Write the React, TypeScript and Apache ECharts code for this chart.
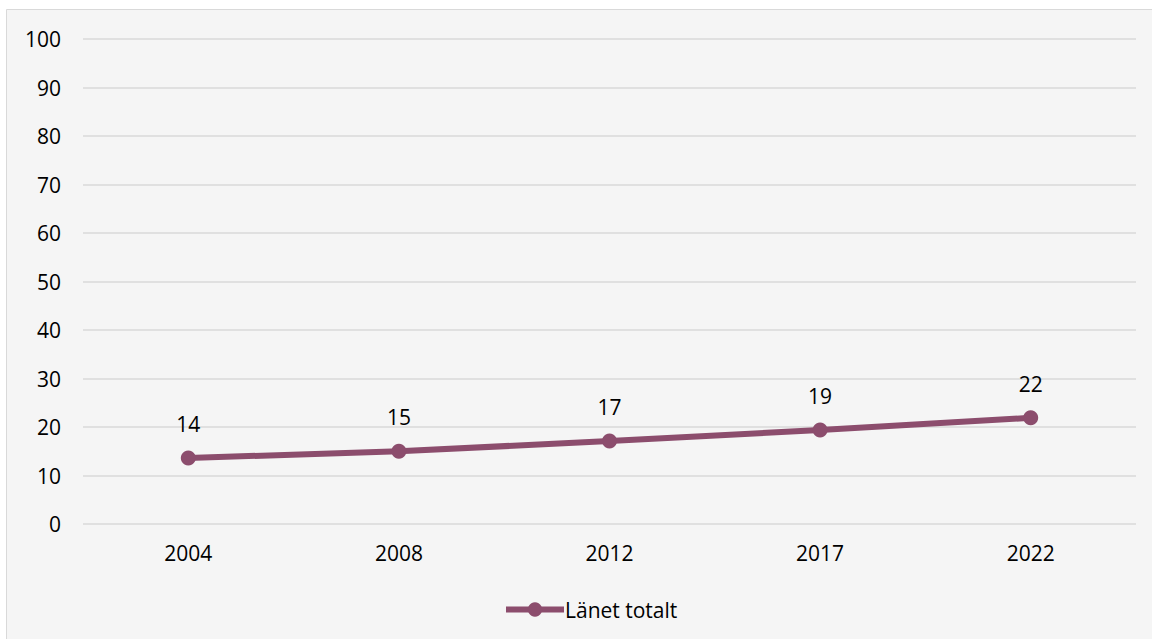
import React, { useEffect, useRef } from "react";
import * as echarts from "echarts";

const categories = ["2004", "2008", "2012", "2017", "2022"];
const values = [13.6, 15.0, 17.1, 19.4, 21.9];
const seriesName = "Länet totalt";
const yTicks = { min: 0, max: 100, interval: 10 };

const FONT = "'Open Sans', 'Noto Sans', sans-serif";
const FS = 21;
const LINE_COLOR = "#8c4d6d";

export default function App() {
  const ref = useRef<HTMLDivElement>(null);
  useEffect(() => {
    document.body.style.margin = "0";
    const chart = echarts.init(ref.current!, null, { renderer: "svg" });
    chart.setOption({
      animation: false,
      backgroundColor: "#ffffff",
      textStyle: { fontFamily: FONT },
      graphic: [
        {
          type: "rect",
          z: -10,
          silent: true,
          shape: { x: 6.5, y: 9.5, width: 1200, height: 700 },
          style: { fill: "#f5f5f5", stroke: "#d9d9d9", lineWidth: 1 },
        },
      ],
      grid: { left: 83, right: 16, top: 39, bottom: 115, containLabel: false },
      xAxis: {
        type: "category",
        data: categories,
        boundaryGap: true,
        axisLine: { show: false },
        axisTick: { show: false },
        axisLabel: { color: "#000", fontSize: FS, fontFamily: FONT, margin: 18 },
      },
      yAxis: {
        type: "value",
        min: yTicks.min,
        max: yTicks.max,
        interval: yTicks.interval,
        axisLine: { show: false },
        axisTick: { show: false },
        axisLabel: { color: "#000", fontSize: FS, fontFamily: FONT, margin: 22 },
        splitLine: { lineStyle: { color: "#d9d9d9", width: 1.5 } },
      },
      legend: {
        bottom: 14,
        left: 498,
        itemWidth: 58,
        itemHeight: 18,
        itemGap: 10,
        lineStyle: { width: 6 },
        textStyle: { color: "#000", fontSize: FS, fontFamily: FONT, padding: [0, 0, 0, -4] },
        data: [seriesName],
      },
      series: [
        {
          name: seriesName,
          type: "line",
          data: values,
          symbol: "circle",
          symbolSize: 15,
          lineStyle: { color: LINE_COLOR, width: 6 },
          itemStyle: { color: LINE_COLOR },
          label: {
            show: true,
            position: "top",
            distance: 16,
            color: "#000",
            fontSize: FS,
            fontFamily: FONT,
            formatter: (p: any) => String(Math.round(p.value)),
          },
        },
      ],
    });
    return () => chart.dispose();
  }, []);
  return <div ref={ref} style={{ width: 1152, height: 639 }} />;
}
